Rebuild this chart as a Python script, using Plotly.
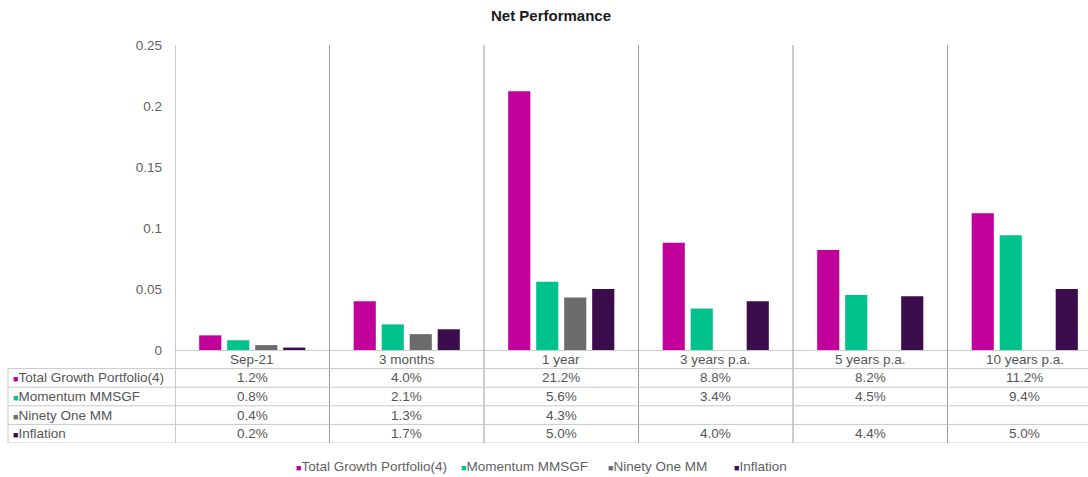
import plotly.graph_objects as go

categories = ["Sep-21", "3 months", "1 year", "3 years p.a.", "5 years p.a.", "10 years p.a."]
series_names = ["Total Growth Portfolio(4)", "Momentum MMSGF", "Ninety One MM", "Inflation"]
total_growth = [0.012, 0.040, 0.212, 0.088, 0.082, 0.112]
momentum = [0.008, 0.021, 0.056, 0.034, 0.045, 0.094]
ninety_one = [0.004, 0.013, 0.043, None, None, None]
inflation = [0.002, 0.017, 0.050, 0.040, 0.044, 0.050]
colors = ["#C2009A", "#00C28C", "#6B6B6E", "#3B0D4C"]
y_ticks = [0, 0.05, 0.1, 0.15, 0.2, 0.25]
y_tick_labels = ["0", "0.05", "0.1", "0.15", "0.2", "0.25"]

W, H = 1088, 477
series = [total_growth, momentum, ninety_one, inflation]
xs = list(range(len(categories)))

def py(px):
    return (H - px) / H

def fmt(v):
    return "" if v is None else f"{v*100:.1f}%"

fig = go.Figure()
for name, vals, c in zip(series_names, series, colors):
    fig.add_trace(go.Bar(x=xs, y=vals, name=name, marker=dict(color=c, line=dict(width=0)),
                         showlegend=False))

FONT = "Liberation Sans, Arial, sans-serif"
FS = 13.5
TXT = "#555555"
plot_left = 175
cat_w = 154.5
x_right = -0.5 + (W - plot_left) / cat_w

fig.update_layout(
    width=W, height=H,
    margin=dict(l=0, r=0, t=0, b=0, pad=0),
    paper_bgcolor="white", plot_bgcolor="white",
    barmode="group", bargap=0.275, bargroupgap=0.21,
    font=dict(family=FONT, size=FS, color=TXT),
    title=dict(text="<b>Net Performance</b>", x=551 / W, xanchor="center", y=py(16), yanchor="middle",
               font=dict(family=FONT, size=15, color="#1a1a1a")),
    xaxis=dict(domain=[plot_left / W, 1], range=[-0.5, x_right], showticklabels=False,
               showgrid=False, zeroline=False, showline=False, ticks="", automargin=False),
    yaxis=dict(domain=[py(350), py(45)], range=[0, 0.25], tickvals=y_ticks, ticktext=y_tick_labels,
               showgrid=False, zeroline=False, showline=False, ticks="", ticklabelstandoff=12,
               tickfont=dict(size=FS, color="#5f5f5f"), automargin=False),
    yaxis2=dict(domain=[py(443), py(350)], range=[5, 0], anchor="x", visible=False),
    showlegend=False,
)

shapes = []
for i in range(len(categories)):
    shapes.append(dict(type="line", xref="x", yref="paper", x0=i - 0.5, x1=i - 0.5,
                       y0=py(443), y1=py(45), line=dict(color="#9a9a9a", width=1)))
shapes.append(dict(type="line", xref="paper", yref="y2", x0=plot_left / W, x1=1, y0=0, y1=0,
                   line=dict(color="#9a9a9a", width=1)))
for r in range(1, 6):
    shapes.append(dict(type="line", xref="paper", yref="y2", x0=8 / W, x1=1, y0=r, y1=r,
                       line=dict(color="#c8c8c8", width=1)))
shapes.append(dict(type="line", xref="paper", yref="y2", x0=8 / W, x1=8 / W, y0=1, y1=5,
                   line=dict(color="#c8c8c8", width=1)))
fig.update_layout(shapes=shapes)

anns = []
for i, c in enumerate(categories):
    anns.append(dict(x=i, y=0.5, xref="x", yref="y2", text=c, showarrow=False,
                     font=dict(size=FS, color=TXT)))
for r, (name, vals, col) in enumerate(zip(series_names, series, colors), start=1):
    anns.append(dict(x=11 / W, y=r + 0.5, xref="paper", yref="y2", xanchor="left",
                     text=f'<span style="color:{col};font-size:9px">■</span>{name}', showarrow=False,
                     font=dict(size=FS, color=TXT)))
    for i, v in enumerate(vals):
        t = fmt(v)
        if t:
            anns.append(dict(x=i, y=r + 0.5, xref="x", yref="y2", text=t, showarrow=False,
                             font=dict(size=FS, color=TXT)))
legend_x = [294, 459, 606, 732]
for name, col, lx in zip(series_names, colors, legend_x):
    anns.append(dict(x=lx / W, y=py(466), xref="paper", yref="paper", xanchor="left", yanchor="middle",
                     text=f'<span style="color:{col};font-size:9px">■</span>{name}', showarrow=False,
                     font=dict(size=FS, color="#5f5f5f")))
fig.update_layout(annotations=anns)

fig.write_html("out.html", config={"displayModeBar": False},
               post_script="document.body.style.margin='0px';document.body.style.overflow='hidden';")
